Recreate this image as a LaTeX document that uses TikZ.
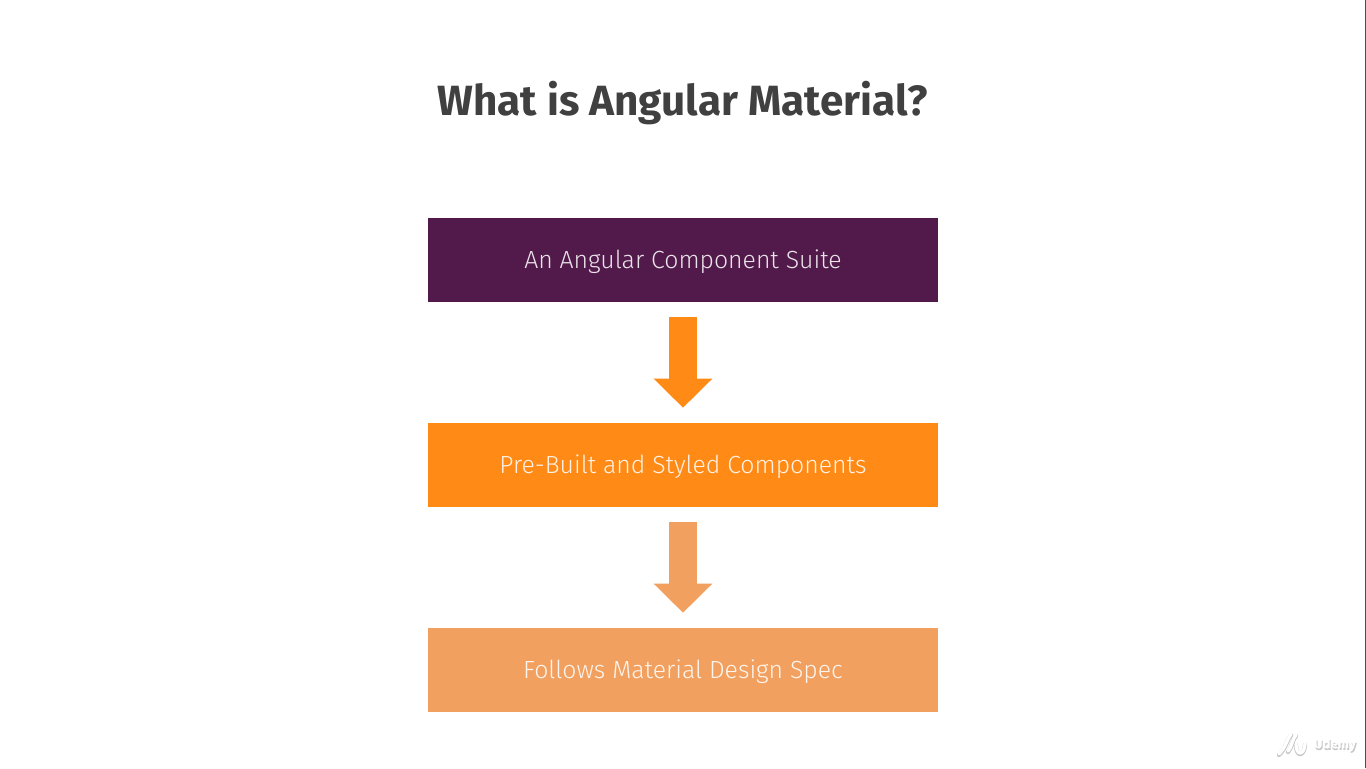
\documentclass[tikz,border=0pt]{standalone}
\usepackage{fontspec}
\setmainfont{Fira Sans}
\newfontfamily\boxfont{Fira Sans Light}
\usetikzlibrary{positioning, arrows.meta}
\definecolor{plum}{HTML}{521A4A}
\definecolor{brightorange}{HTML}{FF8A16}
\definecolor{paleorange}{HTML}{F2A05F}
\definecolor{titlegrey}{HTML}{404040}
\tikzset{
    specbox/.style={minimum width=382.5pt, minimum height=63pt, inner sep=0pt, text height=14pt, text depth=0.8pt, font=\boxfont\fontsize{18.6pt}{22pt}\selectfont},
    blockarrow/.style={xshift=-0.4pt, line width=21.6pt, shorten <=11.25pt, shorten >=11.25pt, -{Triangle[length=21.75pt,width=42.6pt]}}
}
\begin{document}
\begin{tikzpicture}[x=0.75pt, y=-0.75pt]
        \useasboundingbox (0,0) rectangle (1366,768);
        \fill[black!70] (1365,0) rectangle (1366,768);
        \node[inner sep=0pt, text=titlegrey, font=\bfseries\fontsize{31.7pt}{38pt}\selectfont] (title) at (682.5,103) {What is Angular Material?};
        \node[specbox, fill=plum, text=white!88!plum] (suite) at (683,260) {An Angular Component Suite};
        \node[specbox, fill=brightorange, text=white!88!brightorange] (prebuilt) at (683,465) {Pre-Built and Styled Components};
        \node[specbox, fill=paleorange, text=white!88!paleorange] (spec) at (683,670) {Follows Material Design Spec};
        \draw[blockarrow, brightorange] (suite) -- (prebuilt);
        \draw[blockarrow, paleorange] (prebuilt) -- (spec);
        % watermark
        \node[text=black!22, font=\bfseries\fontsize{10pt}{12pt}\selectfont, inner sep=0pt] (markshadow) at (1336,746.5) {Udemy};
        \node[text=white, font=\bfseries\fontsize{10pt}{12pt}\selectfont, inner sep=0pt] (mark) at (1335,745) {Udemy};
        \draw[black!22, line width=3.2pt, line cap=round] (1279,755) .. controls (1286,748) and (1287,740) .. (1291,735) (1288,752) .. controls (1292,748) and (1292,740) .. (1296,736) (1296,745) .. controls (1296,757) and (1304,757) .. (1305,745);
        \draw[white, line width=2.4pt, line cap=round] (1279,754) .. controls (1286,747) and (1287,739) .. (1291,734) (1288,751) .. controls (1292,747) and (1292,739) .. (1296,735) (1296,744) .. controls (1296,756) and (1304,756) .. (1305,744);
    \end{tikzpicture}
\end{document}
